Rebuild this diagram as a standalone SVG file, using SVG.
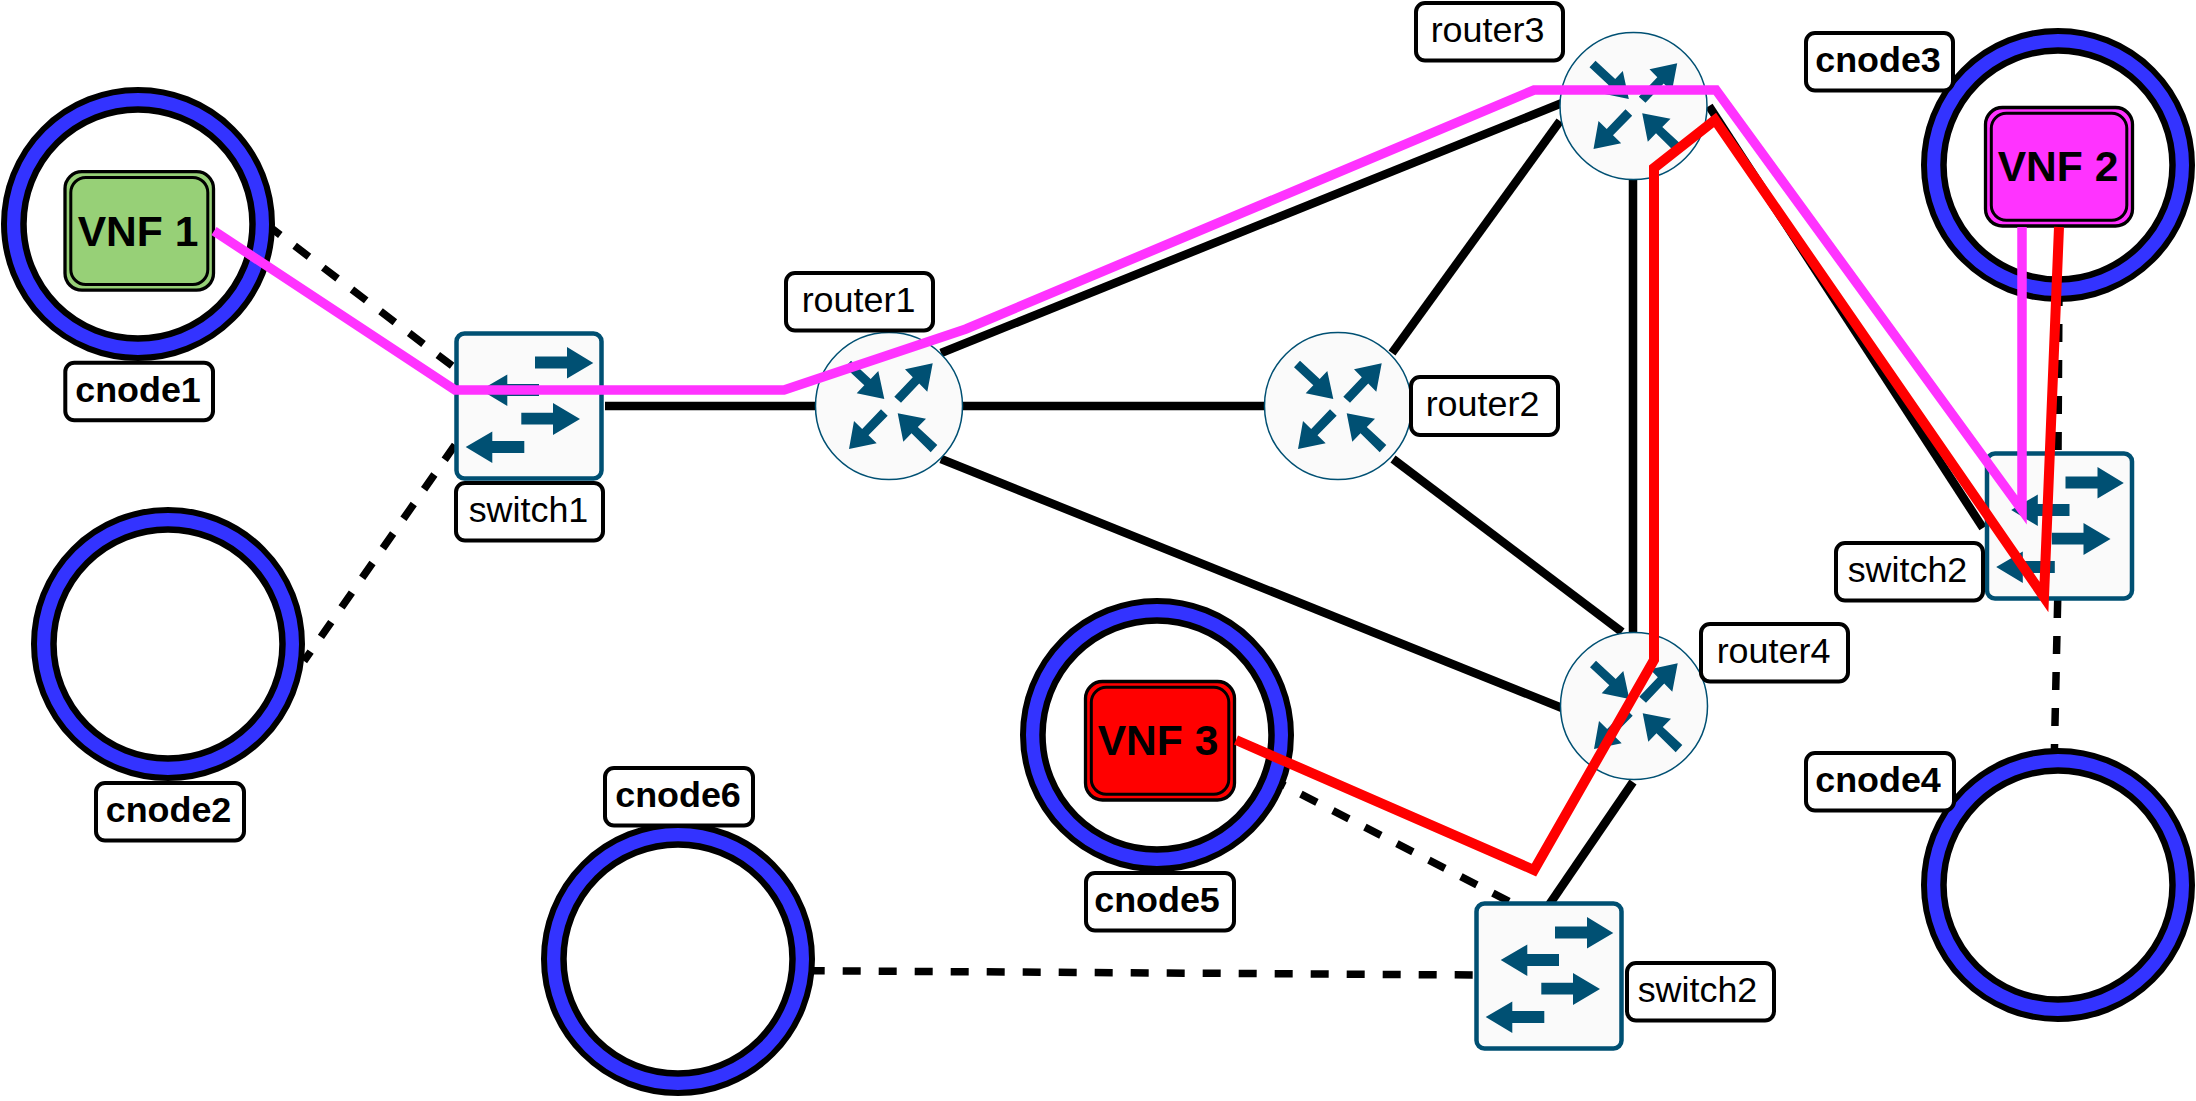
<svg xmlns="http://www.w3.org/2000/svg" width="2196" height="1101" viewBox="0 0 2196 1101">
<style>
text{font-family:"Liberation Sans",Arial,sans-serif;font-size:35.9px;text-anchor:middle;fill:#000}
.b{font-weight:700}
.vt{font-weight:700;font-size:42.6px}
.lab{fill:#fff;stroke:#000;stroke-width:4}
.solid{fill:none;stroke:#000;stroke-width:8.5}
.dash{fill:none;stroke:#000;stroke-width:7.5;stroke-dasharray:18 18}
.mag{fill:none;stroke:#ff33ff;stroke-width:9.5;stroke-miterlimit:12}
.red{fill:none;stroke:#ff0000;stroke-width:10;stroke-miterlimit:12}
.ico{fill:#005073}
.sw{fill:#fafafa;stroke:#005073;stroke-width:4.5}
.rt{fill:#fafafa;stroke:#005073;stroke-width:1.5}
.ring{fill:#3333ff;stroke:#000;stroke-width:6}
.hole{fill:#fff;stroke:#000;stroke-width:6.5}
.vo{stroke:#000;stroke-width:3.3}
.vi{fill:none;stroke:#000;stroke-width:3}
</style>
<defs>
<g id="cn"><circle class="ring" r="134"/><circle class="hole" r="114.500"/></g>
<g id="ri">
<circle class="rt" r="73.500"/>
<polygon class="ico" points="5.3,-9.3 12,-3.3 30.2,-22.5 38.3,-14.3 43.7,-42.7 16,-36.7 23.8,-28.8"/>
<polygon class="ico" points="-38,-45.3 -18.3,-27 -10.7,-35 -4.7,-7 -32.3,-12.7 -24.7,-20.7 -44,-38.7"/>
<polygon class="ico" points="-8,3.3 -1.3,9.7 -20.5,29.3 -12.3,37.3 -40,43 -35,15 -26.8,23"/>
<polygon class="ico" points="48.3,39 28.8,21 37,12.7 8.7,7.3 14.3,35.7 22.5,27.3 41.7,46.3"/>
</g>
<g id="si">
<rect class="sw" x="-72.500" y="-72.500" width="145" height="145" rx="8"/>
<polygon class="ico" points="6,-49.5 38,-49.5 38,-59 64.3,-43 38,-27.5 38,-37.5 6,-37.5"/>
<polygon class="ico" points="-48.3,-16 -21.7,-31.5 -21.7,-22 10,-22 10,-10 -21.7,-10 -21.7,0"/>
<polygon class="ico" points="-7.7,6.8 24,6.8 24,-3 51,13 24,29 24,18.5 -7.7,18.5"/>
<polygon class="ico" points="-63.3,41 -36.7,25.5 -36.7,35 -4.7,35 -4.7,47 -36.7,47 -36.7,57"/>
</g>
</defs>
<rect width="2196" height="1101" fill="#fff"/>
<g id="connectors">
<line class="solid" x1="605" y1="406" x2="820" y2="406"/>
<line class="solid" x1="960" y1="406" x2="1270" y2="406"/>
<line class="solid" x1="941" y1="353" x2="1562" y2="103"/>
<line class="solid" x1="1392" y1="353" x2="1560" y2="121"/>
<line class="solid" x1="1393" y1="459" x2="1622" y2="632"/>
<line class="solid" x1="1633" y1="175" x2="1633" y2="640"/>
<line class="solid" x1="941" y1="459" x2="1562" y2="708"/>
<line class="solid" x1="1709" y1="106" x2="1983" y2="528"/>
<line class="solid" x1="1633" y1="782" x2="1549" y2="905"/>
<line class="dash" x1="266" y1="224" x2="455" y2="368"/>
<line class="dash" x1="455" y1="445" x2="304" y2="661"/>
<line class="dash" x1="1268.9" y1="777.7" x2="1510" y2="902"/>
<line class="dash" x1="806.7" y1="970.7" x2="1476" y2="975"/>
<line class="dash" x1="2059" y1="288" x2="2058" y2="454"/>
<line class="dash" x1="2057.7" y1="600" x2="2054.3" y2="755"/>
</g>
<g id="cnode1"><use href="#cn" x="138" y="224"/><rect class="lab" x="65.300" y="362.700" width="147.700" height="57.600" rx="9"/><text class="b" x="138" y="401.5">cnode1</text></g>
<g id="cnode2"><use href="#cn" x="168" y="644"/><rect class="lab" x="96" y="783" width="148" height="57.500" rx="9"/><text class="b" x="168.500" y="822">cnode2</text></g>
<g id="cnode3"><use href="#cn" x="2058" y="165"/><rect class="lab" x="1806" y="33" width="147" height="57.500" rx="9"/><text class="b" x="1878" y="71.500">cnode3</text></g>
<g id="cnode4"><use href="#cn" x="2058" y="885"/><rect class="lab" x="1806" y="753" width="148" height="57.500" rx="9"/><text class="b" x="1878" y="791.500">cnode4</text></g>
<g id="cnode5"><use href="#cn" x="1157" y="735"/><rect class="lab" x="1086" y="873" width="148" height="57.500" rx="9"/><text class="b" x="1157" y="912">cnode5</text></g>
<g id="cnode6"><use href="#cn" x="678" y="959"/><rect class="lab" x="605" y="768" width="148" height="57.500" rx="9"/><text class="b" x="678" y="807">cnode6</text></g>
<g id="vnf1"><rect class="vo" x="65" y="171.700" width="148.500" height="118.500" rx="17" fill="#97d077"/><rect class="vi" x="70.800" y="177.500" width="137" height="107" rx="15"/><text class="vt" x="138" y="246">VNF 1</text></g>
<g id="vnf2"><rect class="vo" x="1985.500" y="107.500" width="147" height="118.500" rx="17" fill="#ff33ff"/><rect class="vi" x="1991.300" y="113.300" width="135.500" height="107" rx="15"/><text class="vt" x="2058" y="181">VNF 2</text></g>
<g id="vnf3"><rect class="vo" x="1085.500" y="681.500" width="149" height="118.500" rx="17" fill="#ff0000"/><rect class="vi" x="1091.300" y="687.300" width="137.500" height="107" rx="15"/><text class="vt" x="1158" y="755">VNF 3</text></g>
<g id="router1"><use href="#ri" x="889" y="406"/><rect class="lab" x="786" y="273" width="147" height="57.500" rx="9"/><text x="858.500" y="312">router1</text></g>
<g id="router2"><use href="#ri" x="1338" y="406"/><rect class="lab" x="1411" y="377" width="147" height="58" rx="9"/><text x="1482.500" y="416">router2</text></g>
<g id="router3"><use href="#ri" x="1633.500" y="106"/><rect class="lab" x="1416" y="3" width="147" height="57.500" rx="9"/><text x="1487.500" y="41.500">router3</text></g>
<g id="router4"><use href="#ri" x="1634" y="706"/><rect class="lab" x="1701" y="624" width="147" height="57.500" rx="9"/><text x="1773.500" y="663">router4</text></g>
<g id="switch1"><use href="#si" x="529" y="406"/><rect class="lab" x="456" y="483" width="147" height="57.500" rx="9"/><text x="528.500" y="521.500">switch1</text></g>
<g id="switch2a"><use href="#si" x="2059.500" y="526"/><rect class="lab" x="1836" y="543" width="147" height="57.500" rx="9"/><text x="1907.500" y="582">switch2</text></g>
<g id="switch2b"><use href="#si" x="1549" y="976"/><rect class="lab" x="1627" y="963" width="147" height="57.500" rx="9"/><text x="1697.500" y="1002">switch2</text></g>
<g id="paths">
<polyline class="mag" points="214,231 455,390 784,390 966,329 1534,90 1716,90 2022,510 2022,227"/>
<polyline class="red" points="1236,740 1534,870 1654,660 1654,168 1715,120 2044,597 2059,227"/>
</g>
</svg>
